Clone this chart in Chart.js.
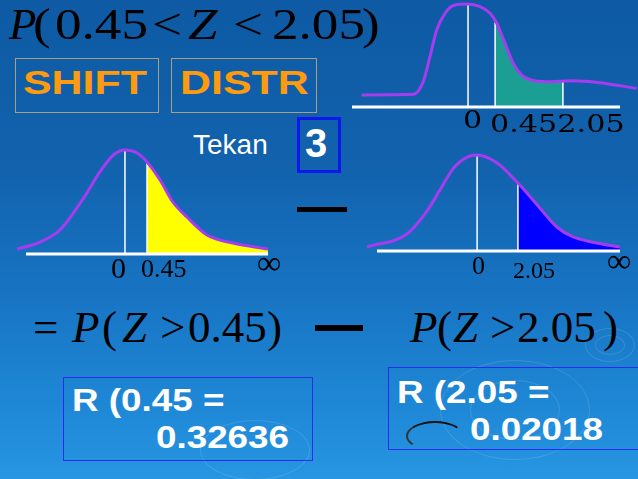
<!DOCTYPE html>
<html>
<head>
<meta charset="utf-8">
<script src="https://cdn.jsdelivr.net/npm/chart.js@4.4.1/dist/chart.umd.min.js"></script>
<style>
html, body { margin: 0; padding: 0; }
body {
    width: 638px; height: 479px; overflow: hidden; position: relative;
    background: linear-gradient(180deg, #0e5aa4 0%, #1262ad 35%, #1773c2 60%, #1e88d6 85%, #2896e2 100%);
    font-family: "Liberation Sans", Arial, sans-serif;
}
.abs { position: absolute; line-height: 1; white-space: nowrap; }
.tm { font-family: "Liberation Serif", "Times New Roman", serif; color: #000; font-size: 45px; }
.it { font-style: italic; }
.wide { transform: scaleX(1.18); transform-origin: left top; }
.key { border: 1px solid #a89f7f; box-sizing: border-box; }
.keytxt { color: #fd9a0e; font-weight: bold; font-size: 33px; transform: scaleX(1.3); transform-origin: left top; }
.res { border: 1px solid #2a2af0; box-sizing: border-box; }
.restxt { color: #fff; font-weight: bold; font-size: 32px; transform: scaleX(1.15); transform-origin: left top; }
.bar { background: #000; }
.ring { border-radius: 50%; border: 1px solid rgba(255,255,255,0.12); box-sizing: border-box; }
.panel { position: absolute; }
</style>
</head>
<body>

<!-- ripples in the background -->
<div class="abs ring" style="left:470px;top:380px;width:90px;height:60px;"></div>
<div class="abs ring" style="left:440px;top:360px;width:150px;height:100px;"></div>
<div class="abs ring" style="left:200px;top:420px;width:110px;height:60px;"></div>
<div class="abs ring" style="left:595px;top:335px;width:30px;height:20px;"></div>
<div class="abs ring" style="left:585px;top:328px;width:50px;height:34px;"></div>

<!-- P(0.45 < Z < 2.05) -->
<span class="abs tm it" style="left:9px;top:2px;">P</span>
<span class="abs tm wide" style="left:33px;top:2px;">(</span>
<span class="abs tm wide" style="left:55px;top:2px;">0.45</span>
<span class="abs tm wide" style="left:152px;top:2px;">&lt;</span>
<span class="abs tm it wide" style="left:188px;top:2px;">Z</span>
<span class="abs tm wide" style="left:233px;top:2px;">&lt;</span>
<span class="abs tm wide" style="left:272px;top:2px;">2.05</span>
<span class="abs tm wide" style="left:362px;top:2px;">)</span>

<div class="abs key" style="left:15px;top:58px;width:144px;height:55px;"></div>
<span class="abs keytxt" style="left:23px;top:66px;">SHIFT</span>
<div class="abs key" style="left:171px;top:58px;width:146px;height:55px;"></div>
<span class="abs keytxt" style="left:180px;top:66px;">DISTR</span>

<span class="abs" style="left:193px;top:131px;font-size:28px;color:#fff;">Tekan</span>
<div class="abs" style="left:297px;top:117px;width:44px;height:56px;border:3px solid #0c18ee;box-sizing:border-box;"></div>
<span class="abs" style="left:305px;top:123px;font-size:40px;font-weight:bold;color:#fff;">3</span>

<div class="abs bar" style="left:297px;top:207px;width:50px;height:5px;"></div>
<div class="abs bar" style="left:315px;top:325px;width:48px;height:6px;"></div>

<!-- the three sketches -->
<div class="panel" style="left:340px;top:0px;width:298px;height:115px;"><canvas id="panelA"></canvas></div>
<div class="panel" style="left:0px;top:140px;width:300px;height:125px;"><canvas id="panelB"></canvas></div>
<div class="panel" style="left:340px;top:140px;width:298px;height:125px;"><canvas id="panelC"></canvas></div>

<!-- axis labels of the sketches -->
<span class="abs" style="left:463px;top:108px;font-family:'DejaVu Serif',serif;font-size:24px;color:#000;transform:scaleX(1.25);transform-origin:left top;">0</span>
<span class="abs" style="left:490px;top:112px;font-family:'DejaVu Serif',serif;font-size:24px;color:#000;transform:scaleX(1.26);transform-origin:left top;">0.452.05</span>

<span class="abs tm" style="left:111px;top:253px;font-size:30px;">0</span>
<span class="abs tm" style="left:141px;top:256px;font-size:26px;">0.45</span>
<span class="abs tm" style="left:257px;top:246px;font-size:34px;">∞</span>

<span class="abs tm" style="left:472px;top:253px;font-size:26px;">0</span>
<span class="abs tm" style="left:513px;top:258px;font-size:24px;">2.05</span>
<span class="abs tm" style="left:607px;top:244px;font-size:34px;">∞</span>

<!-- = P(Z>0.45)  -  P(Z>2.05) -->
<span class="abs tm" style="left:33px;top:305px;">=</span>
<span class="abs tm it" style="left:72px;top:305px;">P</span>
<span class="abs tm" style="left:102px;top:305px;">(</span>
<span class="abs tm it" style="left:122px;top:305px;">Z</span>
<span class="abs tm" style="left:160px;top:305px;">&gt;</span>
<span class="abs tm" style="left:188px;top:305px;">0.45</span>
<span class="abs tm" style="left:267px;top:305px;">)</span>

<span class="abs tm it" style="left:410px;top:305px;">P</span>
<span class="abs tm" style="left:437px;top:305px;">(</span>
<span class="abs tm it" style="left:453px;top:305px;">Z</span>
<span class="abs tm" style="left:490px;top:305px;">&gt;</span>
<span class="abs tm" style="left:517px;top:305px;">2.05</span>
<span class="abs tm" style="left:603px;top:305px;">)</span>

<div class="abs res" style="left:63px;top:377px;width:250px;height:84px;"></div>
<span class="abs restxt" style="left:72px;top:384px;">R (0.45 =</span>
<span class="abs restxt" style="left:156px;top:421px;">0.32636</span>

<div class="abs res" style="left:388px;top:367px;width:262px;height:83px;"></div>
<div class="abs" style="left:406px;top:421px;width:58px;height:30px;border-radius:50%;border:2px solid transparent;border-top-color:#111;border-left-color:#333;box-sizing:border-box;"></div>
<span class="abs restxt" style="left:397px;top:376px;">R (2.05 =</span>
<span class="abs restxt" style="left:470px;top:413px;">0.02018</span>

<script>
// sketch A: P(0.45 < Z < 2.05), x and y (axis = 0..100)
const curveAx = [3.6, 22.9, 26.6, 29.1, 31.6, 34.7, 38.4, 43.2, 47.8, 51.5, 54, 57.1, 60.2, 63.3, 67, 72.6, 82.6, 92.5, 106.2];
const curveAy = [11.7, 12.3, 24.6, 48.9, 74.8, 91, 99, 100, 97.4, 91, 81.3, 61.8, 42.4, 31.1, 26.2, 24.6, 25.5, 23.6, 18.1];
const shadeAx = [53.4, 57.1, 60.2, 63.3, 67, 72.6, 78.7];
const shadeAy = [82, 61.8, 42.4, 31.1, 26.2, 24.6, 25.2];
const linesAx = [43.3, 53.4, 78.7];
const linesAtop = [99, 82, 26.2];

// sketch B: P(Z > 0.45)
const curveBx = [-3.7, 5.8, 14.0, 23.7, 30.6, 36.1, 40.9, 45.9, 50.0, 55.4, 60.7, 66.5, 74.8, 85.5, 100];
const curveBy = [4.8, 11.5, 23.1, 53.5, 79.1, 95.2, 100, 97.1, 88.5, 71.2, 50, 35.6, 18.3, 10.6, 4.8];
const shadeBx = [50.0, 55.4, 60.7, 66.5, 74.8, 85.5, 100];
const shadeBy = [88.5, 71.2, 50, 35.6, 18.3, 10.6, 4.8];
const linesBx = [40.9, 50.0];
const linesBtop = [100, 88.5];

// sketch C: P(Z > 2.05)
const curveCx = [-4.1, 12.3, 20.4, 25.9, 31.4, 36.9, 41.2, 49.4, 58.0, 67.0, 74.0, 80.7, 90.5, 100];
const curveCy = [4.2, 17.7, 41, 63.5, 86.1, 97.6, 100, 91.7, 70.8, 44.8, 25, 14.6, 8.3, 4.2];
const shadeCx = [58.0, 67.0, 74.0, 80.7, 90.5, 100];
const shadeCy = [70.8, 44.8, 25, 14.6, 8.3, 4.2];
const linesCx = [41.2, 58.0];
const linesCtop = [100, 70.8];

const axisX = [0, 100];

const curveColor = '#a63cf0';

function toPoints(xs, ys) {
    return xs.map(function (x, i) { return {x: x, y: ys[i]}; });
}

function drawPanel(id, cx, cy, sx, sy, lx, ltop, shadeColor, pad) {
    const datasets = [{
        data: toPoints(cx, cy),
        borderColor: curveColor,
        borderWidth: 3,
        cubicInterpolationMode: 'monotone',
        order: 0
    }];
    // white verticals at 0 and at the cut values
    lx.forEach(function (x, i) {
        datasets.push({
            data: [{x: x, y: 0}, {x: x, y: ltop[i]}],
            borderColor: '#ffffff',
            borderWidth: 1.5,
            tension: 0,
            order: 1
        });
    });
    // the z axis
    datasets.push({
        data: [{x: axisX[0], y: 0}, {x: axisX[1], y: 0}],
        borderColor: '#ffffff',
        borderWidth: 3,
        tension: 0,
        order: 2
    });
    // shaded area
    datasets.push({
        data: toPoints(sx, sy),
        borderColor: 'rgba(0,0,0,0)',
        borderWidth: 0,
        backgroundColor: shadeColor,
        fill: 'origin',
        cubicInterpolationMode: 'monotone',
        order: 3
    });
    datasets.forEach(function (d) { d.showLine = true; d.pointRadius = 0; d.clip = false; });

    new Chart(document.getElementById(id).getContext('2d'), {
        type: 'scatter',
        data: {datasets: datasets},
        options: {
            responsive: true,
            maintainAspectRatio: false,
            animation: false,
            events: [],
            layout: {padding: pad},
            scales: {
                x: {type: 'linear', display: false, min: 0, max: 100},
                y: {display: false, min: 0, max: 100}
            },
            plugins: {
                legend: {display: false},
                tooltip: {enabled: false}
            }
        }
    });
}

drawPanel('panelA', curveAx, curveAy, shadeAx, shadeAy, linesAx, linesAtop, '#1b9e94', {left: 12, right: 18, top: 4, bottom: 8});
drawPanel('panelB', curveBx, curveBy, shadeBx, shadeBy, linesBx, linesBtop, '#ffff00', {left: 26, right: 32, top: 10, bottom: 11});
drawPanel('panelC', curveCx, curveCy, shadeCx, shadeCy, linesCx, linesCtop, '#0000ff', {left: 37, right: 18, top: 15, bottom: 14});
</script>
</body>
</html>
